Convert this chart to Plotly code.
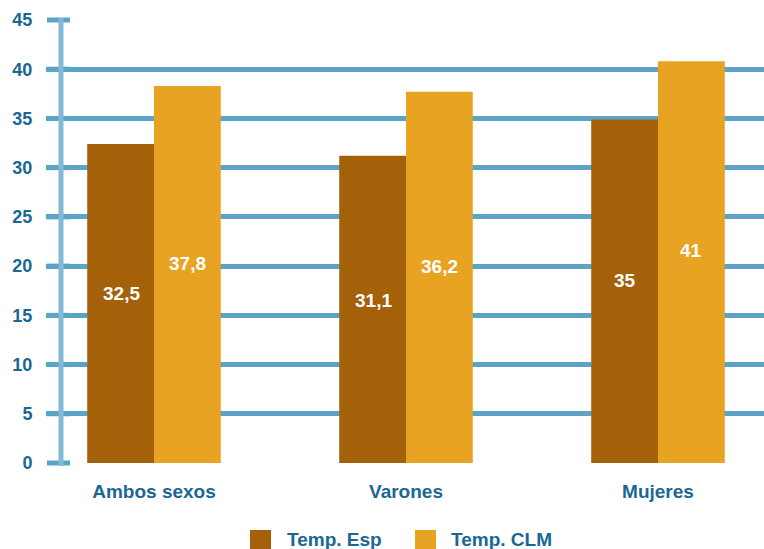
import plotly.graph_objects as go

categories = ["Ambos sexos", "Varones", "Mujeres"]
esp_values = [32.4, 31.2, 34.9]
clm_values = [38.3, 37.7, 40.8]
esp_labels = ["32,5", "31,1", "35"]
clm_labels = ["37,8", "36,2", "41"]
series_names = ["Temp. Esp", "Temp. CLM"]
y_ticks = [0, 5, 10, 15, 20, 25, 30, 35, 40, 45]
y_max = 45

C_ESP = "#a5600a"
C_CLM = "#e8a323"
GRID = "#5ba4c7"
AXIS = "#82b9d7"
TXT = "#1b6793"
FONT = "Liberation Sans, Arial, sans-serif"

L = 46
PW = 764 - L
PH = 443

fig = go.Figure()
fig.add_trace(go.Bar(x=categories, y=esp_values, name=series_names[0], showlegend=False,
                     marker=dict(color=C_ESP, line=dict(width=0))))
fig.add_trace(go.Bar(x=categories, y=clm_values, name=series_names[1], showlegend=False,
                     marker=dict(color=C_CLM, line=dict(width=0))))

annotations = []
for i, c in enumerate(categories):
    annotations.append(dict(x=i, xshift=-33, y=esp_values[i] * 0.53, xref="x", yref="y",
                            text="<b>%s</b>" % esp_labels[i], showarrow=False,
                            font=dict(color="white", size=19, family=FONT)))
    annotations.append(dict(x=i, xshift=33, y=clm_values[i] * 0.53, xref="x", yref="y",
                            text="<b>%s</b>" % clm_labels[i], showarrow=False,
                            font=dict(color="white", size=19, family=FONT)))

shapes = []
# short grid stubs left of the vertical axis line (paper refs so they are not clipped)
for t in y_ticks:
    shapes.append(dict(type="line", xref="paper", yref="paper",
                       x0=(47 - L) / PW, x1=(70 - L) / PW, y0=t / y_max, y1=t / y_max,
                       line=dict(color=GRID, width=5), layer="above"))
# vertical axis line
shapes.append(dict(type="line", xref="paper", yref="paper",
                   x0=(61 - L) / PW, x1=(61 - L) / PW, y0=-3 / PH, y1=1 + 2 / PH,
                   line=dict(color=AXIS, width=5), layer="above"))
# custom legend (swatch + label) placed below the plot
legend_items = [(series_names[0], C_ESP, 250, 285), (series_names[1], C_CLM, 415, 449)]
for name, col, sx, tx in legend_items:
    shapes.append(dict(type="rect", xref="paper", yref="paper",
                       x0=(sx - L) / PW, x1=(sx + 21 - L) / PW,
                       y0=-0.1986, y1=-0.1512, fillcolor=col, line=dict(width=0)))
    annotations.append(dict(x=(tx - L) / PW, y=-0.1738, xref="paper", yref="paper",
                            xanchor="left", yanchor="middle", text="<b>%s</b>" % name,
                            showarrow=False, font=dict(color=TXT, size=19, family=FONT)))

fig.update_layout(
    width=764, height=549,
    margin=dict(l=L, r=0, t=20, b=86),
    paper_bgcolor="white", plot_bgcolor="white",
    barmode="group", bargap=0.47, bargroupgap=0,
    font=dict(family=FONT, color=TXT, size=19),
    annotations=annotations,
    shapes=shapes,
    showlegend=False,
    xaxis=dict(range=[(L - 154) / 252, (764 - 154) / 252], showgrid=False, zeroline=False,
               showline=False, automargin=False,
               ticks="outside", ticklen=11, tickcolor="rgba(0,0,0,0)",
               tickfont=dict(size=19, color=TXT, family=FONT),
               tickvals=list(range(len(categories))),
               ticktext=["<b>%s</b>" % c for c in categories]),
    yaxis=dict(range=[0, y_max], tickvals=y_ticks, ticktext=["<b>%d</b>" % t for t in y_ticks],
               automargin=False,
               showgrid=True, gridcolor=GRID, gridwidth=5, zeroline=False,
               showline=False, ticks="outside", ticklen=9, tickcolor="rgba(0,0,0,0)",
               tickfont=dict(size=18, color=TXT, family=FONT)),
)

fig.write_html("out.html", config={"displayModeBar": False},
               post_script="document.body.style.margin='0';document.body.style.overflow='hidden';")
